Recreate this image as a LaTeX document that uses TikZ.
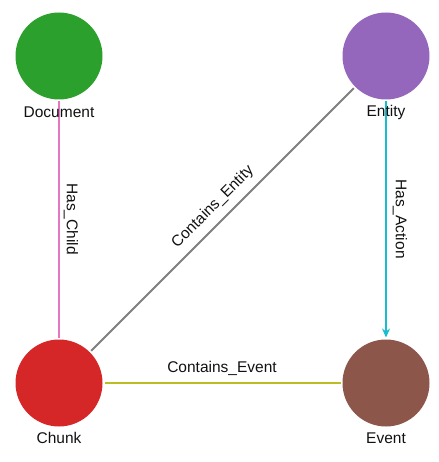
\documentclass[tikz,border=0pt]{standalone}
\usepackage{fontspec}
\setmainfont{Liberation Sans}
\usetikzlibrary{arrows.meta}
\definecolor{cgreen}{HTML}{2CA02C}
\definecolor{cpurple}{HTML}{9467BD}
\definecolor{cred}{HTML}{D62728}
\definecolor{cbrown}{HTML}{8C564B}
\definecolor{cpink}{HTML}{E377C2}
\definecolor{cgray}{HTML}{7F7F7F}
\definecolor{colive}{HTML}{BCBD22}
\definecolor{ccyan}{HTML}{17BECF}
\definecolor{ctext}{HTML}{111111}
\begin{document}
\begin{tikzpicture}[x=1pt,y=-1pt,
  vertex/.style={circle,inner sep=0pt,minimum size=87pt,outer sep=2pt},
  lbl/.style={font=\fontsize{15.5}{18}\selectfont,text=ctext,inner sep=0pt},
  elbl/.style={font=\fontsize{15.5}{18}\selectfont,text=ctext,inner sep=0pt},
  edge/.style={line width=2pt}]
\useasboundingbox (0,0) rectangle (438,462);
\node[vertex,fill=cgreen] (doc) at (59,56) {};
\node[vertex,fill=cpurple] (ent) at (386,56) {};
\node[vertex,fill=cred] (chk) at (59,383) {};
\node[vertex,fill=cbrown] (evt) at (386,383) {};
\draw[edge,cpink] (doc) -- (chk);
\draw[edge,cgray] (ent) -- (chk);
\draw[edge,colive] (chk) -- (evt);
\draw[edge,ccyan,-{Stealth[length=9pt,width=8pt]}] (ent) -- (evt);
\node[lbl] (docl) at (59,112) {Document};
\node[lbl] (entl) at (386,112) {Entity};
\node[lbl] (chkl) at (59,438) {Chunk};
\node[lbl] (evtl) at (386,438) {Event};
\node[elbl,rotate=-90] (hc) at (71,219) {Has\_Child};
\node[elbl,rotate=-90] (ha) at (400,219) {Has\_Action};
\node[elbl,rotate=45] (ce) at (213,207) {Contains\_Entity};
\node[elbl] (cev) at (222,368) {Contains\_Event};
\end{tikzpicture}
\end{document}
